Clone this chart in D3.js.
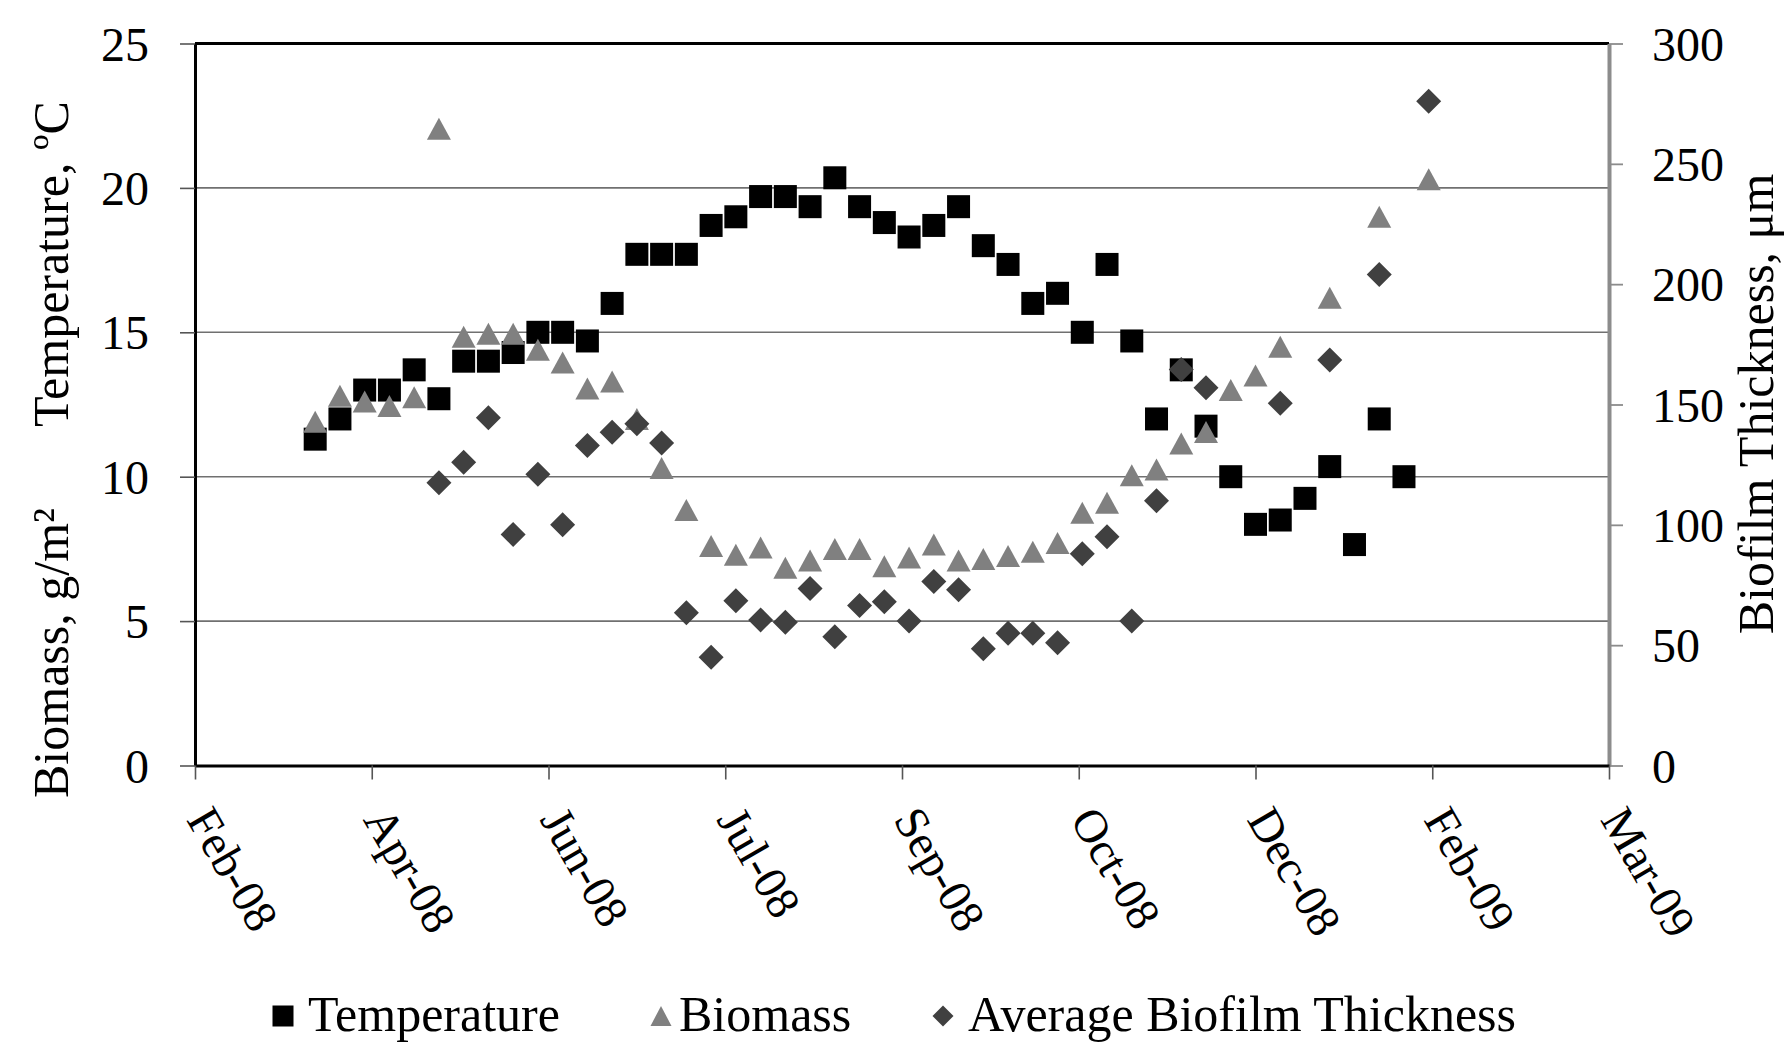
<!DOCTYPE html>
<html>
<head>
<meta charset="utf-8">
<script src="https://cdn.jsdelivr.net/npm/d3@7"></script>
<style>
  html, body { margin: 0; padding: 0; background: #ffffff; }
  svg { display: block; }
  text { font-family: "Liberation Serif", "Times New Roman", serif; fill: #000; }
</style>
</head>
<body>
<svg id="chart" width="1787" height="1044"></svg>
<script>
// Weekly sampling dates
const dates = [
  "2008-03-28","2008-04-04","2008-04-11","2008-04-18","2008-04-25",
  "2008-05-02","2008-05-09","2008-05-16","2008-05-23","2008-05-30",
  "2008-06-06","2008-06-13","2008-06-20","2008-06-27","2008-07-04",
  "2008-07-11","2008-07-18","2008-07-25","2008-08-01","2008-08-08",
  "2008-08-15","2008-08-22","2008-08-29","2008-09-05","2008-09-12",
  "2008-09-19","2008-09-26","2008-10-03","2008-10-10","2008-10-17",
  "2008-10-24","2008-10-31","2008-11-07","2008-11-14","2008-11-21",
  "2008-11-28","2008-12-05","2008-12-12","2008-12-19","2008-12-26",
  "2009-01-02","2009-01-09","2009-01-16","2009-01-23","2009-01-30",
  "2009-02-06"
];

// Temperature, °C (left axis)
const temperature = [
  11.3, 12.0, 13.0, 13.0, 13.7, 12.7, 14.0, 14.0, 14.3, 15.0,
  15.0, 14.7, 16.0, 17.7, 17.7, 17.7, 18.7, 19.0, 19.7, 19.7,
  19.35, 20.35, 19.35, 18.8, 18.3, 18.7, 19.35, 18.0, 17.35, 16.0,
  16.35, 15.0, 17.35, 14.7, 12.0, 13.7, 11.75, 10.0, 8.35, 8.5,
  9.25, 10.35, 7.65, 12.0, 10.0, null
];

// Biomass, g/m² (left axis)
const biomass = [
  11.9, 12.8, 12.6, 12.45, 12.75, 22.05, 14.85, 14.95, 14.95, 14.4,
  13.95, 13.05, 13.3, 12.0, 10.3, 8.85, 7.6, 7.3, 7.55, 6.85,
  7.1, 7.5, 7.5, 6.9, 7.2, 7.65, 7.1, 7.15, 7.25, 7.4,
  7.7, 8.75, 9.1, 10.05, 10.25, 11.15, 11.55, 13.0, 13.5, 14.5,
  null, 16.2, null, 19.0, null, 20.3
];

// Average biofilm thickness, µm (right axis)
const thickness = [
  null, null, null, null, null, 117.5, 126, 144.5, 96, 121,
  100, 133, 138.5, 142, 134, 63.5, 45, 68.5, 60.5, 59.5,
  73.5, 53.5, 66.5, 68, 60, 76.5, 73, 48.5, 55, 55,
  51, 88, 95, 60, 110, 164.5, 157, null, null, 150.5,
  null, 168.5, null, 204, null, 276
];

// Axis definitions
const tickDates = [
  "2008-02-23","2008-04-13","2008-06-02","2008-07-22","2008-09-10",
  "2008-10-30","2008-12-19","2009-02-07","2009-03-29"
];
const leftTicks = [0, 5, 10, 15, 20, 25];
const rightTicks = [0, 50, 100, 150, 200, 250, 300];
const seriesNames = ["Temperature", "Biomass", "Average Biofilm Thickness"];

const parse = d3.utcParse("%Y-%m-%d");
const svg = d3.select("#chart");

const plot = { left: 195, right: 1609, top: 43.5, bottom: 765.5 };

const x = d3.scaleUtc()
  .domain([parse(tickDates[0]), parse(tickDates[tickDates.length - 1])])
  .range([plot.left, plot.right]);
const yL = d3.scaleLinear().domain([0, 25]).range([plot.bottom, plot.top]);
const yR = d3.scaleLinear().domain([0, 300]).range([plot.bottom, plot.top]);

// Horizontal gridlines
svg.append("g")
  .selectAll("line")
  .data(leftTicks.filter(v => v > 0 && v < 25))
  .join("line")
  .attr("x1", plot.left).attr("x2", plot.right)
  .attr("y1", d => yL(d)).attr("y2", d => yL(d))
  .attr("stroke", "#707070").attr("stroke-width", 1.6);

// Top border
svg.append("line")
  .attr("x1", plot.left).attr("x2", plot.right)
  .attr("y1", yL(25)).attr("y2", yL(25))
  .attr("stroke", "#000").attr("stroke-width", 3);

// Left axis
const gL = svg.append("g")
  .attr("transform", `translate(${plot.left},0)`)
  .call(d3.axisLeft(yL).tickValues(leftTicks).tickSize(15).tickSizeOuter(0).tickPadding(31));
gL.select(".domain").attr("stroke", "#000").attr("stroke-width", 3);
gL.selectAll(".tick line").attr("stroke", "#555").attr("stroke-width", 1.6);
gL.selectAll(".tick text")
  .attr("font-family", "Liberation Serif, Times New Roman, serif")
  .attr("font-size", 48).attr("fill", "#000").attr("dy", null)
  .attr("dominant-baseline", "central");

// Right axis
const gR = svg.append("g")
  .attr("transform", `translate(${plot.right},0)`)
  .call(d3.axisRight(yR).tickValues(rightTicks).tickSize(14).tickSizeOuter(0).tickPadding(29));
gR.select(".domain").attr("stroke", "#8c8c8c").attr("stroke-width", 4);
gR.selectAll(".tick line").attr("stroke", "#8c8c8c").attr("stroke-width", 1.8);
gR.selectAll(".tick text")
  .attr("font-family", "Liberation Serif, Times New Roman, serif")
  .attr("font-size", 48).attr("fill", "#000").attr("dy", null)
  .attr("dominant-baseline", "central");

// Bottom (date) axis
const gB = svg.append("g")
  .attr("transform", `translate(0,${plot.bottom})`)
  .call(d3.axisBottom(x).tickValues(tickDates.map(parse)).tickSize(14).tickSizeOuter(0)
    .tickFormat(d3.utcFormat("%b-%y")));
gB.select(".domain").attr("stroke", "#000").attr("stroke-width", 3);
gB.selectAll(".tick line").attr("stroke", "#555").attr("stroke-width", 1.6);
gB.selectAll(".tick text")
  .attr("font-family", "Liberation Serif, Times New Roman, serif")
  .attr("font-size", 47).attr("fill", "#000")
  .attr("x", 4).attr("y", 46).attr("dy", null)
  .attr("text-anchor", "start").attr("dominant-baseline", "central")
  .attr("transform", "rotate(60, 4, 46)");

// Markers
const pts = (vals, scale) => dates.map((d, i) => ({ date: parse(d), v: vals[i] }))
  .filter(p => p.v !== null)
  .map(p => ({ cx: x(p.date), cy: scale(p.v) }));

const sq = 23;
svg.append("g").selectAll("rect")
  .data(pts(temperature, yL))
  .join("rect")
  .attr("x", d => d.cx - sq / 2).attr("y", d => d.cy - sq / 2)
  .attr("width", sq).attr("height", sq)
  .attr("fill", "#000");

const triPath = "M0,-11L12,11L-12,11Z";
svg.append("g").selectAll("path")
  .data(pts(biomass, yL))
  .join("path")
  .attr("d", triPath)
  .attr("transform", d => `translate(${d.cx},${d.cy})`)
  .attr("fill", "#808080");

const diaPath = "M0,-12.5L12.5,0L0,12.5L-12.5,0Z";
svg.append("g").selectAll("path")
  .data(pts(thickness, yR))
  .join("path")
  .attr("d", diaPath)
  .attr("transform", d => `translate(${d.cx},${d.cy})`)
  .attr("fill", "#404040");

// Axis titles
svg.append("text")
  .attr("transform", "translate(68,427) rotate(-90)")
  .attr("font-size", 50).attr("text-anchor", "start")
  .text("Temperature, ºC");
svg.append("text")
  .attr("transform", "translate(68,798) rotate(-90)")
  .attr("font-size", 50).attr("text-anchor", "start")
  .text("Biomass, g/m²");
svg.append("text")
  .attr("transform", "translate(1773,404) rotate(-90)")
  .attr("font-size", 50).attr("text-anchor", "middle")
  .text("Biofilm Thickness, μm");

// Legend
const legend = svg.append("g");
const legY = 1016, legBase = 1031;
legend.append("rect").attr("x", 283 - 10.5).attr("y", legY - 10.5)
  .attr("width", 21).attr("height", 21).attr("fill", "#000");
legend.append("text").attr("x", 308).attr("y", legBase).attr("font-size", 50).text(seriesNames[0]);
legend.append("path").attr("d", "M0,-10L10.5,10L-10.5,10Z")
  .attr("transform", `translate(661,${legY})`).attr("fill", "#808080");
legend.append("text").attr("x", 679).attr("y", legBase).attr("font-size", 50).text(seriesNames[1]);
legend.append("path").attr("d", "M0,-10.5L10.5,0L0,10.5L-10.5,0Z")
  .attr("transform", `translate(943,${legY})`).attr("fill", "#404040");
legend.append("text").attr("x", 968).attr("y", legBase).attr("font-size", 50).text(seriesNames[2]);
</script>
</body>
</html>
